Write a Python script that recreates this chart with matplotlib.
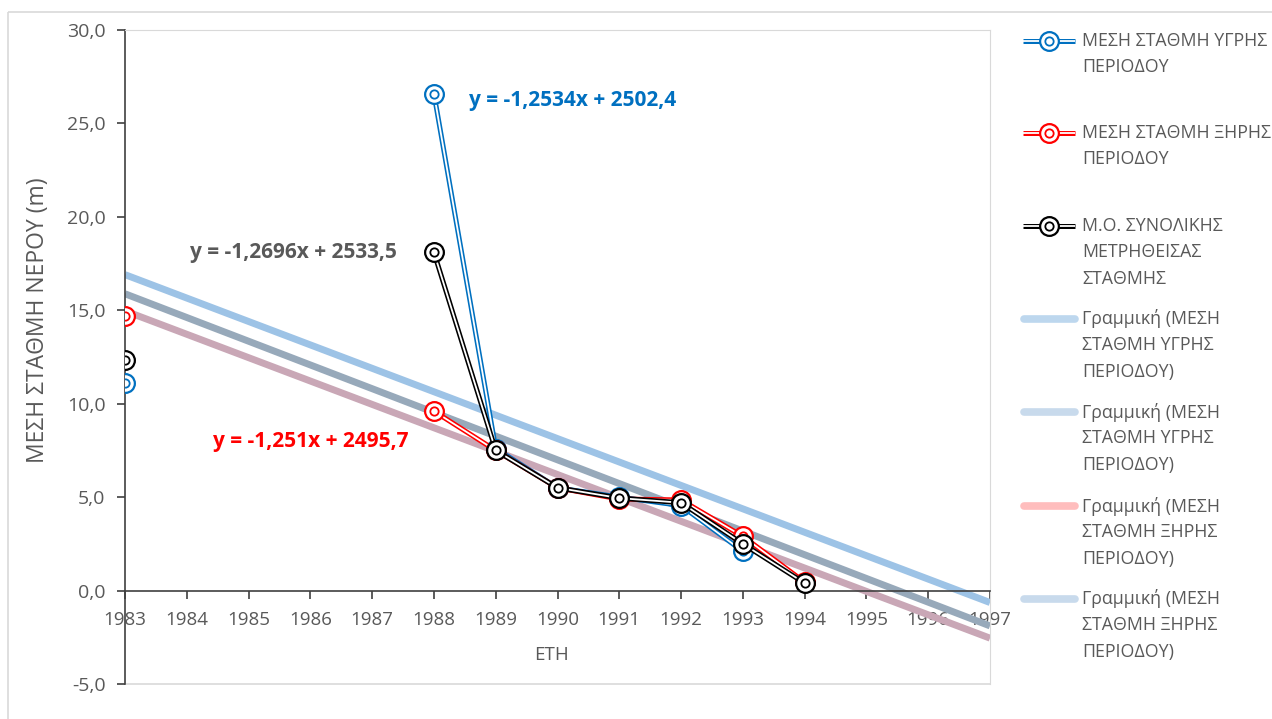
import numpy as np
import matplotlib
matplotlib.use("Agg")
import matplotlib.pyplot as plt
from matplotlib.ticker import FuncFormatter
from matplotlib.patches import Rectangle

plt.rcParams['font.family'] = ['Open Sans', 'Noto Sans', 'DejaVu Sans']

# data
years = [1983, 1984, 1985, 1986, 1987, 1988, 1989, 1990, 1991, 1992, 1993, 1994]
nan = np.nan
wet = [11.1, nan, nan, nan, nan, 26.6, 7.6, 5.5, 5.0, 4.55, 2.1, nan]
dry = [14.7, nan, nan, nan, nan, 9.6, 7.5, 5.5, 4.9, 4.85, 2.9, 0.45]
total = [12.35, nan, nan, nan, nan, 18.1, 7.5, 5.5, 4.95, 4.7, 2.5, 0.4]

series_names = ["ΜΕΣΗ ΣΤΑΘΜΗ ΥΓΡΗΣ\nΠΕΡΙΟΔΟΥ",
                "ΜΕΣΗ ΣΤΑΘΜΗ ΞΗΡΗΣ\nΠΕΡΙΟΔΟΥ",
                "Μ.Ο. ΣΥΝΟΛΙΚΗΣ\nΜΕΤΡΗΘΕΙΣΑΣ\nΣΤΑΘΜΗΣ"]
series_colors = ["#0070C0", "#FF0000", "#000000"]

# trend lines (from the equations on the chart)
trend_slopes = [-1.2534, -1.2696, -1.251]
trend_intercepts = [2502.4, 2533.5, 2495.7]
trend_colors = ["#9DC3E6", "#97A9BA", "#C9A7B6"]
trend_labels = ["y = -1,2534x + 2502,4", "y = -1,2696x + 2533,5", "y = -1,251x + 2495,7"]
label_colors = ["#0070C0", "#595959", "#FF0000"]
label_pos = [(1988.56, 26.25), (1984.05, 18.07), (1984.43, 7.96)]

trend_names = ["Γραμμική (ΜΕΣΗ\nΣΤΑΘΜΗ ΥΓΡΗΣ\nΠΕΡΙΟΔΟΥ)",
               "Γραμμική (ΜΕΣΗ\nΣΤΑΘΜΗ ΥΓΡΗΣ\nΠΕΡΙΟΔΟΥ)",
               "Γραμμική (ΜΕΣΗ\nΣΤΑΘΜΗ ΞΗΡΗΣ\nΠΕΡΙΟΔΟΥ)",
               "Γραμμική (ΜΕΣΗ\nΣΤΑΘΜΗ ΞΗΡΗΣ\nΠΕΡΙΟΔΟΥ)"]
trend_leg_colors = ["#BDD7EE", "#C8DAEC", "#FFBDBD", "#C8DAEC"]

fig = plt.figure(figsize=(12.72, 7.19), dpi=100)
ax = fig.add_axes([125/1272, 35/719, 865/1272, 654/719])

txt = "#595959"
light = "#D9D9D9"

x_tr = np.array([1983, 1997])
for k in range(3):
    ax.plot(x_tr, trend_slopes[k]*x_tr + trend_intercepts[k], color=trend_colors[k],
            lw=5, solid_capstyle='butt', zorder=2)
    ax.text(label_pos[k][0], label_pos[k][1], trend_labels[k], color=label_colors[k],
            fontsize=15, fontweight='bold', ha='left', va='center', zorder=6)

def draw_series(a, x, y, c, z):
    a.plot(x, y, color=c, lw=3.6, zorder=z, solid_capstyle='butt')
    a.plot(x, y, color='white', lw=1.3, zorder=z+0.1, solid_capstyle='butt')
    a.plot(x, y, ls='none', marker='o', ms=13.5, mfc='white', mec=c, mew=1.6, zorder=z+0.2)
    a.plot(x, y, ls='none', marker='o', ms=6, mfc='none', mec=c, mew=1.3, zorder=z+0.3)

for k, vals in enumerate([wet, dry, total]):
    draw_series(ax, years, vals, series_colors[k], 3 + k)

ax.set_xlim(1983, 1997)
ax.set_ylim(-5, 30)
ax.set_xticks(range(1983, 1998))
ax.set_yticks(np.arange(-5, 31, 5))
ax.yaxis.set_major_formatter(FuncFormatter(lambda v, p: ("%.1f" % v).replace(".", ",")))
ax.spines['bottom'].set_position(('data', 0))
ax.spines['bottom'].set_color("#404040")
ax.spines['left'].set_color("#404040")
ax.spines['top'].set_color(light)
ax.spines['right'].set_color(light)
for s in ['bottom', 'left']:
    ax.spines[s].set_linewidth(1.2)
ax.axhline(-5, color=light, lw=1.2, clip_on=False, zorder=1)
ax.tick_params(axis='both', direction='out', length=6, width=1.2, color="#404040",
               labelcolor=txt, labelsize=13.5)
ax.tick_params(axis='y', labelsize=14, pad=8)
ax.tick_params(axis='x', pad=9)

fig.text(38/1272, (719-320)/719, "ΜΕΣΗ ΣΤΑΘΜΗ ΝΕΡΟΥ (m)", rotation=90, ha='center',
         va='center', color=txt, fontsize=16.5)
fig.text(552/1272, (719-655)/719, "ΕΤΗ", ha='center', va='center', color=txt, fontsize=13.5)

# overlay in pixel coords: frame and legend
ov = fig.add_axes([0, 0, 1, 1], zorder=-1)
ov.set_xlim(0, 1272)
ov.set_ylim(719, 0)
ov.axis('off')
ov.add_patch(Rectangle((8, 12), 1300, 800, fill=False, ec=light, lw=1.2))

lg = fig.add_axes([0, 0, 1, 1], zorder=5)
lg.set_xlim(0, 1272)
lg.set_ylim(719, 0)
lg.axis('off')
lg.patch.set_alpha(0)

series_y = [41, 133, 226]
for k in range(3):
    yy = series_y[k]
    c = series_colors[k]
    lg.plot([1023, 1075], [yy, yy], color=c, lw=3.6, solid_capstyle='butt')
    lg.plot([1023, 1075], [yy, yy], color='white', lw=1.3, solid_capstyle='butt')
    lg.plot([1049], [yy], marker='o', ms=13.5, mfc='white', mec=c, mew=1.6)
    lg.plot([1049], [yy], marker='o', ms=6, mfc='none', mec=c, mew=1.3)
    for j, line in enumerate(series_names[k].split("\n")):
        lg.text(1082, yy + j*26.3, line, color=txt, fontsize=12.8, ha='left', va='center')

trend_y = [319, 412, 506, 599]
for k in range(4):
    yy = trend_y[k]
    lg.plot([1024, 1075], [yy, yy], color=trend_leg_colors[k], lw=5.5, solid_capstyle='round')
    for j, line in enumerate(trend_names[k].split("\n")):
        lg.text(1082, yy + j*26.3, line, color=txt, fontsize=12.8, ha='left', va='center')

fig.savefig("out.png", dpi=100)
